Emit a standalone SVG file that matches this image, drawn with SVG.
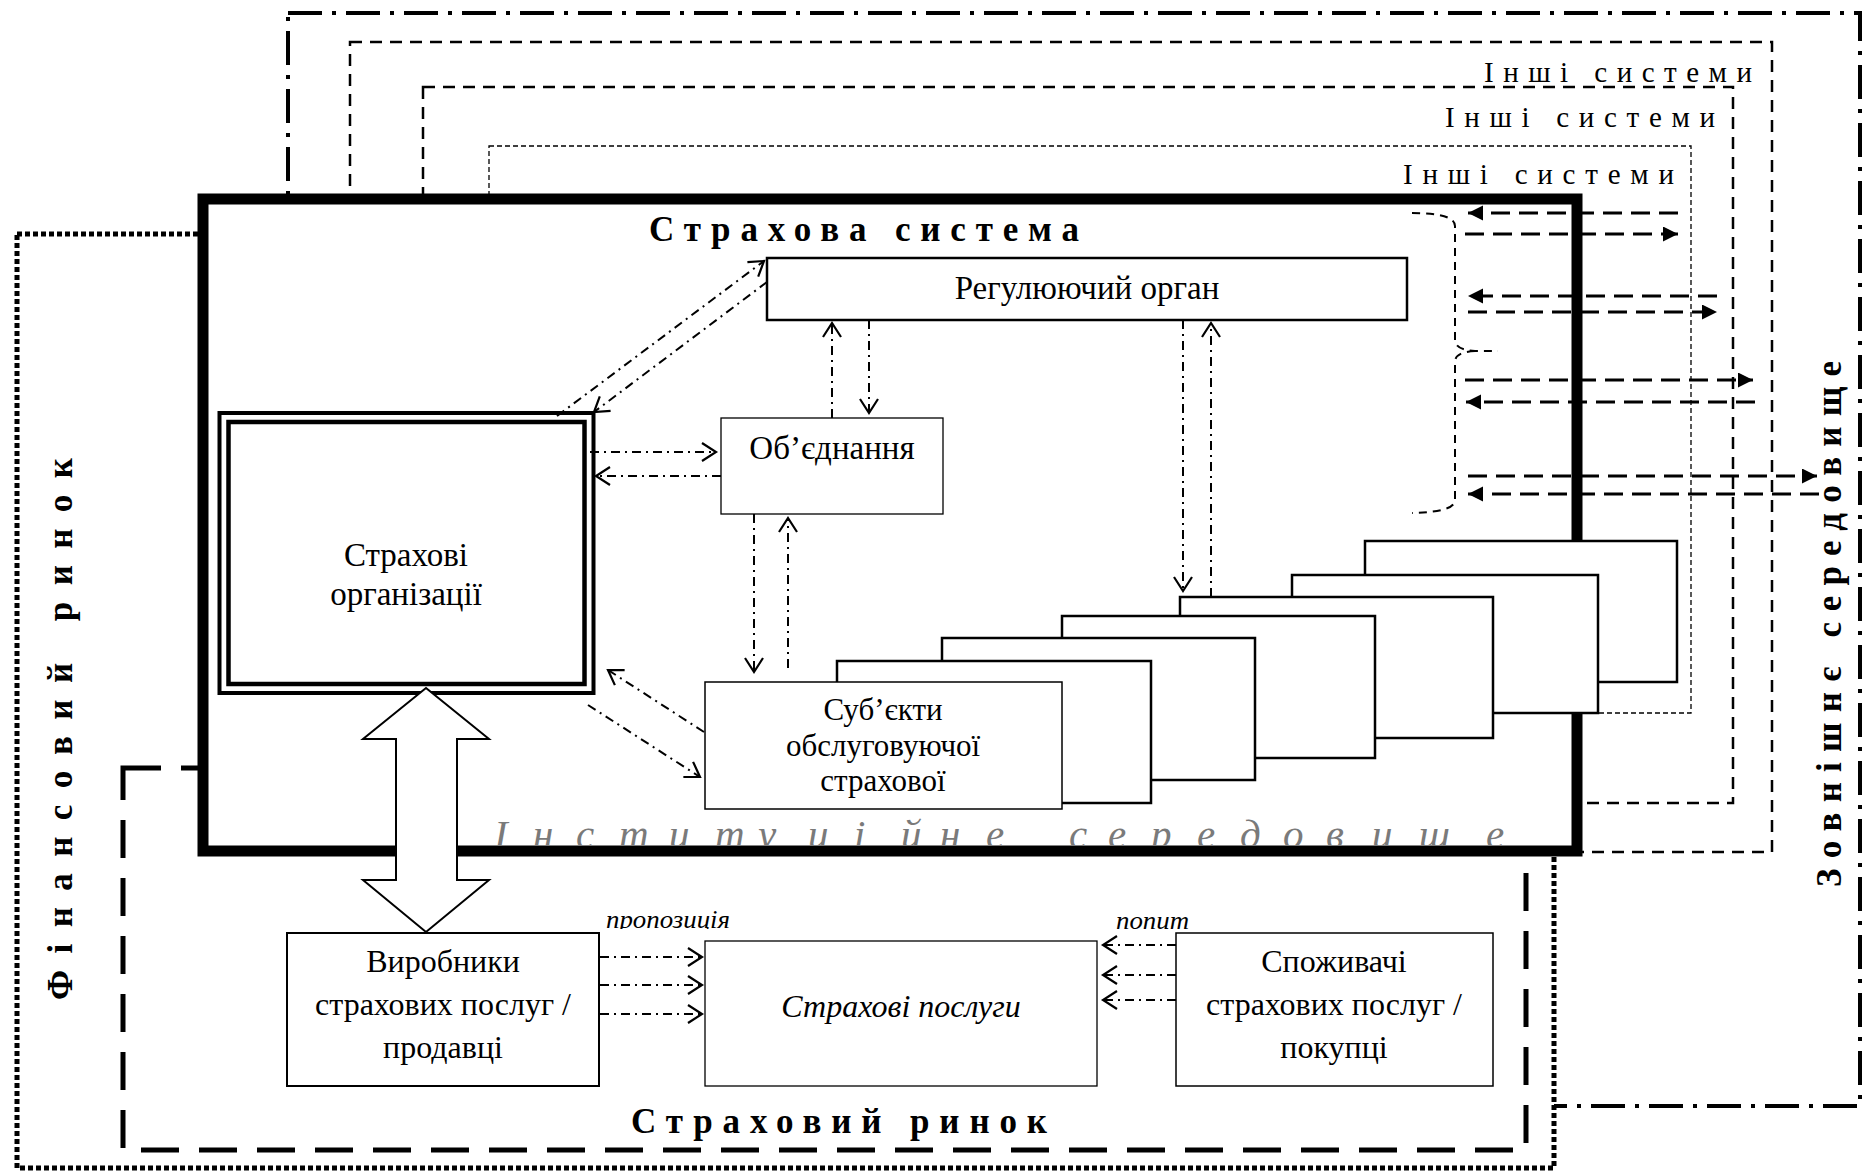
<svg xmlns="http://www.w3.org/2000/svg" width="1874" height="1174" viewBox="0 0 1874 1174">
  <defs>
    <style>
      .t { font-family: "Liberation Serif", "Times New Roman", serif; fill: #000; }
      .reg { font-size: 33px; }
      .bold { font-weight: bold; font-size: 35px; }
      .ital { font-style: italic; }
      .box { fill: #fff; stroke: #000; }
      .dd { fill: none; stroke: #000; stroke-width: 2; stroke-dasharray: 9 5 2 5; marker-end: url(#open); }
      .dash { fill: none; stroke: #000; stroke-width: 3; stroke-dasharray: 19 9; marker-end: url(#solid); }
    </style>
    <marker id="open" markerUnits="userSpaceOnUse" markerWidth="16" markerHeight="20" refX="14" refY="9" orient="auto" overflow="visible">
      <path d="M0,0 L14,9 L0,18" fill="none" stroke="#000" stroke-width="2.2"/>
    </marker>
    <marker id="solid" markerUnits="userSpaceOnUse" markerWidth="16" markerHeight="16" refX="15" refY="7.5" orient="auto">
      <path d="M0,0 L15,7.5 L0,15 z" fill="#000"/>
    </marker>
    <clipPath id="clipInst"><rect x="400" y="780" width="1150" height="65.5"/></clipPath>
    <clipPath id="clipProp"><rect x="580" y="890" width="200" height="39"/></clipPath>
  </defs>

  <!-- surrounding environment frames -->
  <g id="environment">
    <rect x="288" y="13" width="1572" height="1093" fill="none" stroke="#000" stroke-width="4" stroke-dasharray="34 10 4 10"/>
    <rect x="350" y="42" width="1422" height="810" fill="none" stroke="#000" stroke-width="2.5" stroke-dasharray="12 8"/>
    <rect x="423" y="87" width="1310" height="716" fill="none" stroke="#000" stroke-width="2.5" stroke-dasharray="12 8"/>
    <rect x="489" y="146" width="1202" height="567" fill="none" stroke="#000" stroke-width="1.3" stroke-dasharray="5 3"/>
    <text class="t" x="1484" y="82" font-size="29" textLength="268" lengthAdjust="spacing">Інші системи</text>
    <text class="t" x="1445" y="127" font-size="29" textLength="270" lengthAdjust="spacing">Інші системи</text>
    <text class="t" x="1403" y="184" font-size="29" textLength="271" lengthAdjust="spacing">Інші системи</text>
  </g>

  <!-- financial market frame -->
  <g id="financial-market">
    <rect x="17" y="234" width="1537" height="934" fill="#fff" stroke="#000" stroke-width="5" stroke-dasharray="5 3"/>
    <text class="t bold" transform="translate(72,729) rotate(-90)" text-anchor="middle" font-size="36" textLength="542" lengthAdjust="spacing">Фінансовий ринок</text>
  </g>

  <!-- insurance market frame -->
  <g id="insurance-market">
    <rect x="123" y="768" width="1403" height="382" fill="none" stroke="#000" stroke-width="5" stroke-dasharray="38 20"/>
    <text class="t bold" x="631" y="1133" textLength="416" lengthAdjust="spacing">Страховий ринок</text>
  </g>

  <!-- insurance system -->
  <g id="insurance-system">
    <rect x="203" y="199" width="1374" height="652" fill="#fff" stroke="#000" stroke-width="11"/>
    <text class="t bold" x="649" y="241" textLength="430" lengthAdjust="spacing">Страхова система</text>
    <text class="t ital" font-size="41" style="fill:#7a7a7a" clip-path="url(#clipInst)" y="848" x="494 533 576 619 669 715 758 808 854 901 940 986 1030 1069 1108 1151 1197 1240 1283 1326 1372 1419 1486">Інституційне середовище</text>
  </g>

  <g id="regulator">
    <rect class="box" x="767" y="258" width="640" height="62" stroke-width="2.5"/>
    <text class="t reg" x="1087" y="299" text-anchor="middle">Регулюючий орган</text>
  </g>

  <g id="association">
    <rect class="box" x="721" y="418" width="222" height="96" stroke-width="1.3"/>
    <text class="t reg" x="832" y="459" text-anchor="middle">Об’єднання</text>
  </g>

  <g id="insurers">
    <rect class="box" x="219.5" y="413" width="374" height="280" stroke-width="4"/>
    <rect x="228.5" y="422" width="356" height="262" fill="none" stroke="#000" stroke-width="4.5"/>
    <text class="t reg" x="406" y="566" text-anchor="middle">Страхові</text>
    <text class="t reg" x="406" y="605" text-anchor="middle">організації</text>
  </g>

  <g id="service-entities">
    <rect class="box" x="1365" y="541" width="312" height="141" stroke-width="2.5"/>
    <rect class="box" x="1292" y="575" width="306" height="138" stroke-width="2.5"/>
    <rect class="box" x="1180" y="597" width="313" height="141" stroke-width="2.5"/>
    <rect class="box" x="1062" y="616" width="313" height="142" stroke-width="2.5"/>
    <rect class="box" x="942" y="638" width="313" height="142" stroke-width="2.5"/>
    <rect class="box" x="837" y="661" width="314" height="142" stroke-width="2.5"/>
    <rect class="box" x="705" y="682" width="357" height="127" stroke-width="1.5"/>
    <text class="t" font-size="31" x="883" y="720" text-anchor="middle">Суб’єкти</text>
    <text class="t" font-size="31" x="883" y="756" text-anchor="middle">обслуговуючої</text>
    <text class="t" font-size="31" x="883" y="791" text-anchor="middle">страхової</text>
  </g>

  <g id="exchange-arrow">
    <path d="M426,688 L489,739 L457,739 L457,880 L489,880 L426,932 L363,880 L396,880 L396,739 L363,739 Z" fill="#fff" stroke="#000" stroke-width="2"/>
  </g>

  <g id="producers">
    <rect class="box" x="287" y="933" width="312" height="153" stroke-width="2"/>
    <text class="t" font-size="32" x="443" y="972" text-anchor="middle">Виробники</text>
    <text class="t" font-size="32" x="443" y="1015" text-anchor="middle">страхових послуг /</text>
    <text class="t" font-size="32" x="443" y="1058" text-anchor="middle">продавці</text>
  </g>

  <g id="services">
    <rect class="box" x="705" y="941" width="392" height="145" stroke-width="1.3"/>
    <text class="t ital" font-size="32" x="901" y="1017" text-anchor="middle">Страхові послуги</text>
  </g>

  <g id="consumers">
    <rect class="box" x="1176" y="933" width="317" height="153" stroke-width="1.5"/>
    <text class="t" font-size="32" x="1334" y="972" text-anchor="middle">Споживачі</text>
    <text class="t" font-size="32" x="1334" y="1015" text-anchor="middle">страхових послуг /</text>
    <text class="t" font-size="32" x="1334" y="1058" text-anchor="middle">покупці</text>
  </g>

  <g id="connectors">
    <path class="dd" d="M557,416 L764,261"/>
    <path class="dd" d="M767,282 L594,412"/>
    <path class="dd" d="M590,452 L716,452"/>
    <path class="dd" d="M721,476 L596,476"/>
    <path class="dd" d="M832,418 L832,323"/>
    <path class="dd" d="M869,320 L869,413"/>
    <path class="dd" d="M754,514 L754,672"/>
    <path class="dd" d="M788,668 L788,518"/>
    <path class="dd" d="M1183,320 L1183,591"/>
    <path class="dd" d="M1211,597 L1211,323"/>
    <path class="dd" d="M704,732 L608,670"/>
    <path class="dd" d="M588,705 L700,777"/>
    <path class="dd" d="M600,957 L702,957"/>
    <path class="dd" d="M600,985 L702,985"/>
    <path class="dd" d="M600,1014 L702,1014"/>
    <path class="dd" d="M1176,945 L1103,945"/>
    <path class="dd" d="M1176,975 L1103,975"/>
    <path class="dd" d="M1176,1000 L1103,1000"/>

    <path class="dash" d="M1678,213 L1468,213"/>
    <path class="dash" d="M1465,234 L1678,234"/>
    <path class="dash" d="M1717,296 L1468,296"/>
    <path class="dash" d="M1468,312 L1717,312"/>
    <path class="dash" d="M1465,380 L1753,380"/>
    <path class="dash" d="M1755,402 L1466,402"/>
    <path class="dash" d="M1468,476 L1817,476"/>
    <path class="dash" d="M1819,494 L1468,494"/>

    <path d="M1412,213 Q1455,213 1455,226 L1455,340 Q1455,350 1475,351 L1498,351 M1475,351 Q1455,352 1455,362 L1455,500 Q1455,512 1412,513" fill="none" stroke="#000" stroke-width="2" stroke-dasharray="8 6"/>

    <text class="t ital" font-size="26" x="606" y="928" clip-path="url(#clipProp)" textLength="124" lengthAdjust="spacingAndGlyphs">пропозиція</text>
    <text class="t ital" font-size="26" x="1116" y="929" textLength="73" lengthAdjust="spacingAndGlyphs">попит</text>
  </g>

  <g id="external-environment">
    <text class="t bold" transform="translate(1841,624) rotate(-90)" text-anchor="middle" font-size="36" textLength="526" lengthAdjust="spacing">Зовнішнє середовище</text>
  </g>
</svg>
